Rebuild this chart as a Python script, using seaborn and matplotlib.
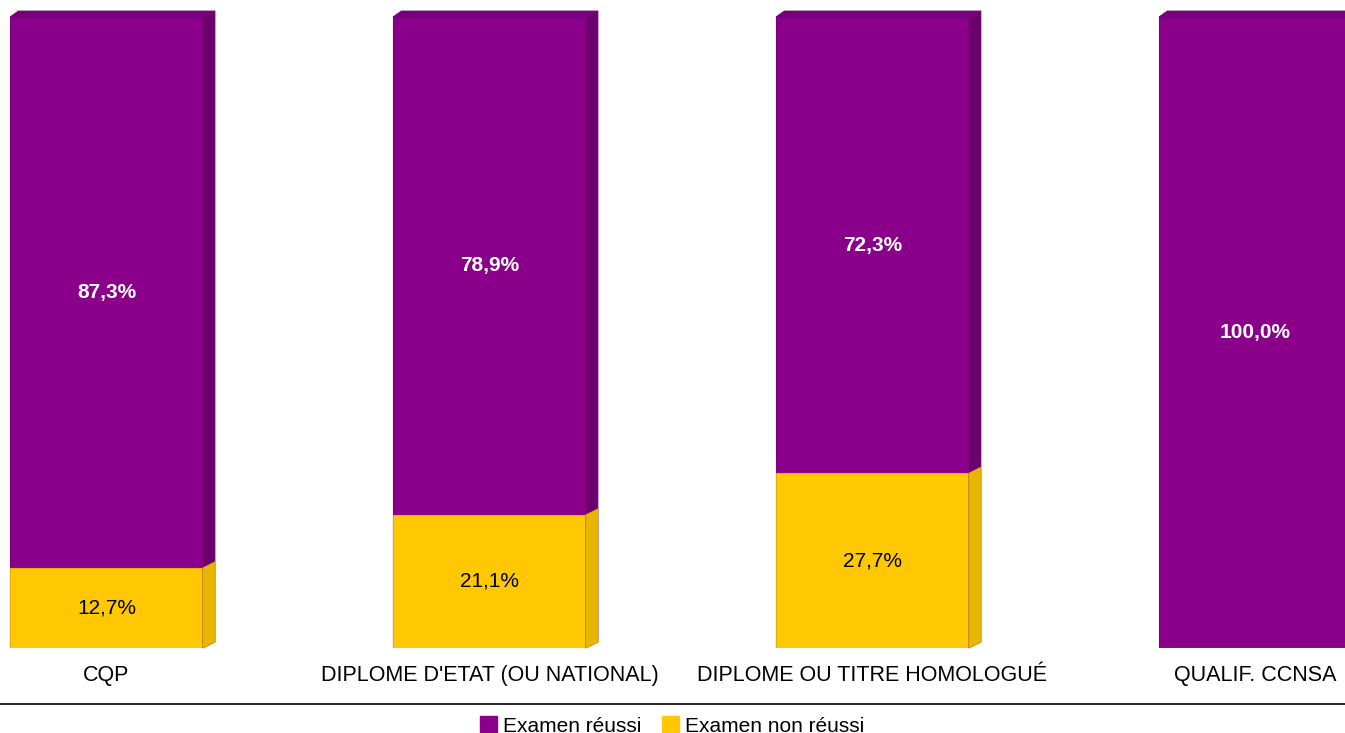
import matplotlib
matplotlib.use("Agg")
import matplotlib.pyplot as plt
import seaborn as sns
from matplotlib.lines import Line2D
from matplotlib.patches import Patch, Polygon

categories = ["CQP", "DIPLOME D'ETAT (OU NATIONAL)", "DIPLOME OU TITRE HOMOLOGUÉ", "QUALIF. CCNSA"]
reussi = [87.3, 78.9, 72.3, 100.0]
non_reussi = [12.7, 21.1, 27.7, 0.0]
series_names = ["Examen réussi", "Examen non réussi"]

PURPLE = "#8B008B"
PURPLE_SIDE = "#6C006C"
PURPLE_TOP = "#74007A"
PURPLE_EDGE = "#7A007A"
YELLOW = "#FFC803"
YELLOW_SIDE = "#E6B600"
YELLOW_EDGE = "#E2B000"

sns.set_theme(style="white")
plt.rcParams["font.family"] = ["Liberation Sans", "DejaVu Sans"]

W, H = 1345, 733
fig = plt.figure(figsize=(W / 100, H / 100), dpi=100)
ax = fig.add_axes([0, (H - 648) / H, 1, (648 - 17) / H])

total = [a + b for a, b in zip(reussi, non_reussi)]
sns.barplot(x=categories, y=total, color=PURPLE, width=0.504, errorbar=None,
            saturation=1, edgecolor=PURPLE_EDGE, linewidth=0.8, ax=ax)
sns.barplot(x=categories, y=non_reussi, color=YELLOW, width=0.504, errorbar=None,
            saturation=1, edgecolor=YELLOW_EDGE, linewidth=0.8, ax=ax)

ax.set_xlim(-0.278, 3.234)
ax.set_ylim(0, 100)

# pseudo 3D faces (offsets in pixels converted to data units)
x_per_px = (3.234 + 0.278) / W
y_per_px = 100 / (648 - 17)
dx, dy = 12 * x_per_px, 6 * y_per_px

n = len(categories)
purple_bars = ax.patches[:n]
yellow_bars = ax.patches[n:2 * n]
for p in purple_bars:
    x0, x1 = p.get_x(), p.get_x() + p.get_width()
    y1 = p.get_height()
    ax.add_patch(Polygon([(x1, 0), (x1 + dx, dy), (x1 + dx, y1 + dy), (x1, y1)],
                         closed=True, facecolor=PURPLE_SIDE, edgecolor=PURPLE_EDGE,
                         linewidth=0.6, clip_on=False))
    ax.add_patch(Polygon([(x0, y1), (x0 + dx * 0.7, y1 + dy), (x1 + dx, y1 + dy), (x1, y1)],
                         closed=True, facecolor=PURPLE_TOP, edgecolor=PURPLE_EDGE,
                         linewidth=0.6, clip_on=False))
for p in yellow_bars:
    h = p.get_height()
    if h <= 0:
        continue
    x1 = p.get_x() + p.get_width()
    ax.add_patch(Polygon([(x1, 0), (x1 + dx, dy), (x1 + dx, h + dy), (x1, h)],
                         closed=True, facecolor=YELLOW_SIDE, edgecolor=YELLOW_EDGE,
                         linewidth=0.6, clip_on=False))

for i in range(n):
    if reussi[i] > 0:
        ax.text(i, non_reussi[i] + reussi[i] / 2, f"{reussi[i]:.1f}%".replace(".", ","),
                ha="center", va="center", color="white", fontsize=15, fontweight="bold")
    if non_reussi[i] > 0:
        ax.text(i, non_reussi[i] / 2, f"{non_reussi[i]:.1f}%".replace(".", ","),
                ha="center", va="center", color="black", fontsize=15)

ax.set_yticks([])
ax.set_xlabel("")
ax.tick_params(axis="x", length=0, pad=12, labelsize=15.5, colors="black")
for s in ax.spines.values():
    s.set_visible(False)

fig.add_artist(Line2D([0, 1], [(H - 704) / H] * 2, color="black", linewidth=1.2))

handles = [Patch(facecolor=PURPLE, edgecolor=PURPLE), Patch(facecolor=YELLOW, edgecolor=YELLOW)]
fig.legend(handles, series_names, loc="center", bbox_to_anchor=(672 / W, (H - 726) / H),
           ncol=2, frameon=False, fontsize=15, handlelength=0.8, handleheight=0.8,
           handletextpad=0.3, columnspacing=1.0, borderpad=0, labelcolor="black")

fig.savefig("out.png", dpi=100)
